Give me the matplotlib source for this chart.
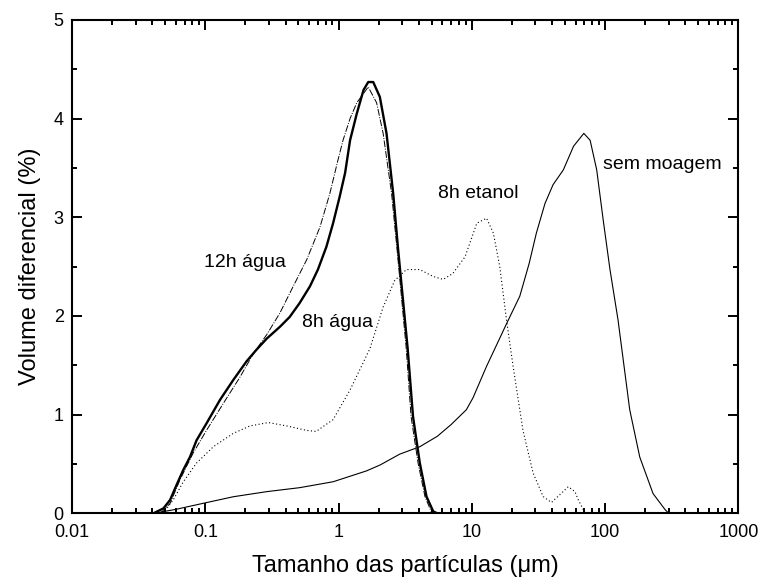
import matplotlib.pyplot as plt
from matplotlib.ticker import FixedLocator, LogLocator, NullFormatter, MultipleLocator

plt.rcParams['font.family'] = ['Liberation Sans', 'DejaVu Sans']

# sem moagem (as received)
sm_x = [0.041, 0.06, 0.091, 0.162, 0.29, 0.51, 0.91, 1.62, 2.05, 2.88, 4.07, 5.5, 7.0,
        9.1, 10.2, 12.9, 18.2, 22.9, 26.9, 30.5, 35.4, 40.7, 48.6, 58, 69.2, 77.2,
        86.5, 96.8, 108.8, 125, 153, 182, 229, 281, 300]
sm_y = [0.0, 0.04, 0.094, 0.168, 0.22, 0.26, 0.32, 0.43, 0.49, 0.6, 0.675, 0.78, 0.9,
        1.05, 1.17, 1.49, 1.92, 2.2, 2.53, 2.84, 3.14, 3.33, 3.48, 3.72, 3.85, 3.78,
        3.48, 2.97, 2.47, 1.96, 1.05, 0.57, 0.2, 0.04, 0.0]

# 12h agua
a12_x = [0.0408, 0.0485, 0.0544, 0.061, 0.0684, 0.0767, 0.086, 0.102, 0.129, 0.162, 0.204,
         0.243, 0.289, 0.363, 0.43, 0.51, 0.61, 0.70, 0.81, 0.91, 1.02, 1.12, 1.22, 1.37,
         1.54, 1.67, 1.82, 2.04, 2.29, 2.57, 2.8, 3.3, 3.62, 4.07, 4.57, 5.13, 5.5]
a12_y = [0.0, 0.05, 0.135, 0.29, 0.44, 0.57, 0.74, 0.91, 1.15, 1.35, 1.54, 1.66, 1.77, 1.89,
         1.99, 2.13, 2.30, 2.47, 2.70, 2.94, 3.21, 3.45, 3.78, 4.05, 4.29, 4.37, 4.37, 4.22,
         3.85, 3.24, 2.67, 1.67, 0.98, 0.51, 0.17, 0.02, 0.0]

# 8h agua
a8_x = [0.046, 0.0544, 0.0646, 0.081, 0.102, 0.136, 0.182, 0.23, 0.289, 0.363, 0.457, 0.577,
        0.725, 0.86, 0.99, 1.08, 1.22, 1.37, 1.67, 1.93, 2.16, 2.5, 2.75, 3.22, 3.5, 3.95,
        4.45, 4.95, 5.3]
a8_y = [0.0, 0.10, 0.34, 0.61, 0.84, 1.11, 1.38, 1.62, 1.81, 2.03, 2.30, 2.57, 2.9, 3.24,
        3.58, 3.78, 4.0, 4.16, 4.32, 4.16, 3.85, 3.24, 2.67, 1.67, 0.98, 0.51, 0.17, 0.02, 0.0]

# 8h etanol
et_x = [0.048, 0.0575, 0.0684, 0.086, 0.115, 0.162, 0.216, 0.297, 0.41, 0.577, 0.68, 0.91,
        1.22, 1.72, 2.16, 2.64, 3.23, 4.07, 5.13, 6.1, 7.2, 8.9, 10.9, 12.9, 14.5, 16.2,
        18.2, 20.4, 24.2, 28.8, 34.3, 39.6, 45.8, 52.9, 59.4, 63, 71]
et_y = [0.0, 0.135, 0.32, 0.51, 0.675, 0.81, 0.885, 0.92, 0.885, 0.84, 0.83, 0.95, 1.25,
        1.67, 2.09, 2.36, 2.47, 2.47, 2.40, 2.37, 2.43, 2.6, 2.94, 2.99, 2.84, 2.5, 1.96,
        1.49, 0.84, 0.41, 0.17, 0.11, 0.19, 0.27, 0.22, 0.135, 0.0]

labels = ["12h água", "8h água", "8h etanol", "sem moagem"]
label_pos = [(0.097, 2.50), (0.528, 1.885), (5.6, 3.20), (96.8, 3.49)]

fig = plt.figure(figsize=(7.62, 5.84), dpi=100)
ax = fig.add_axes([0.0945, 0.121, 0.8745, 0.845])

ax.plot(sm_x, sm_y, color='black', lw=0.8)
ax.plot(a12_x, a12_y, color='black', lw=1.7)
ax.plot(a8_x, a8_y, color='black', lw=0.7, linestyle=(0, (7, 1.5, 1, 1.5)))
ax.plot(et_x, et_y, color='black', lw=0.8, linestyle=(0, (1, 2.2)))

for text, (tx, ty) in zip(labels, label_pos):
    ax.text(tx, ty, text, fontsize=14, ha='left', va='baseline')

ax.set_xscale('log')
ax.set_xlim(0.01, 1000)
ax.set_ylim(0, 5)
ax.xaxis.set_major_locator(FixedLocator([0.01, 0.1, 1, 10, 100, 1000]))
ax.set_xticklabels(["0.01", "0.1", "1", "10", "100", "1000"])
ax.xaxis.set_minor_locator(LogLocator(base=10, subs=range(2, 10), numticks=20))
ax.xaxis.set_minor_formatter(NullFormatter())
ax.yaxis.set_major_locator(MultipleLocator(1))
ax.yaxis.set_minor_locator(MultipleLocator(0.5))

ax.tick_params(which='both', direction='in', top=True, right=True, width=1.4)
ax.tick_params(which='major', length=7.5, labelsize=13)
ax.tick_params(axis='x', which='major', pad=8)
ax.tick_params(axis='y', which='major', pad=6)
ax.tick_params(which='minor', length=3.8)
for sp in ax.spines.values():
    sp.set_linewidth(1.5)

ax.set_xlabel("Tamanho das partículas (μm)", fontsize=17, labelpad=10)
ax.set_ylabel("Volume diferencial (%)", fontsize=17, labelpad=9)

fig.savefig("out.png", dpi=100)
